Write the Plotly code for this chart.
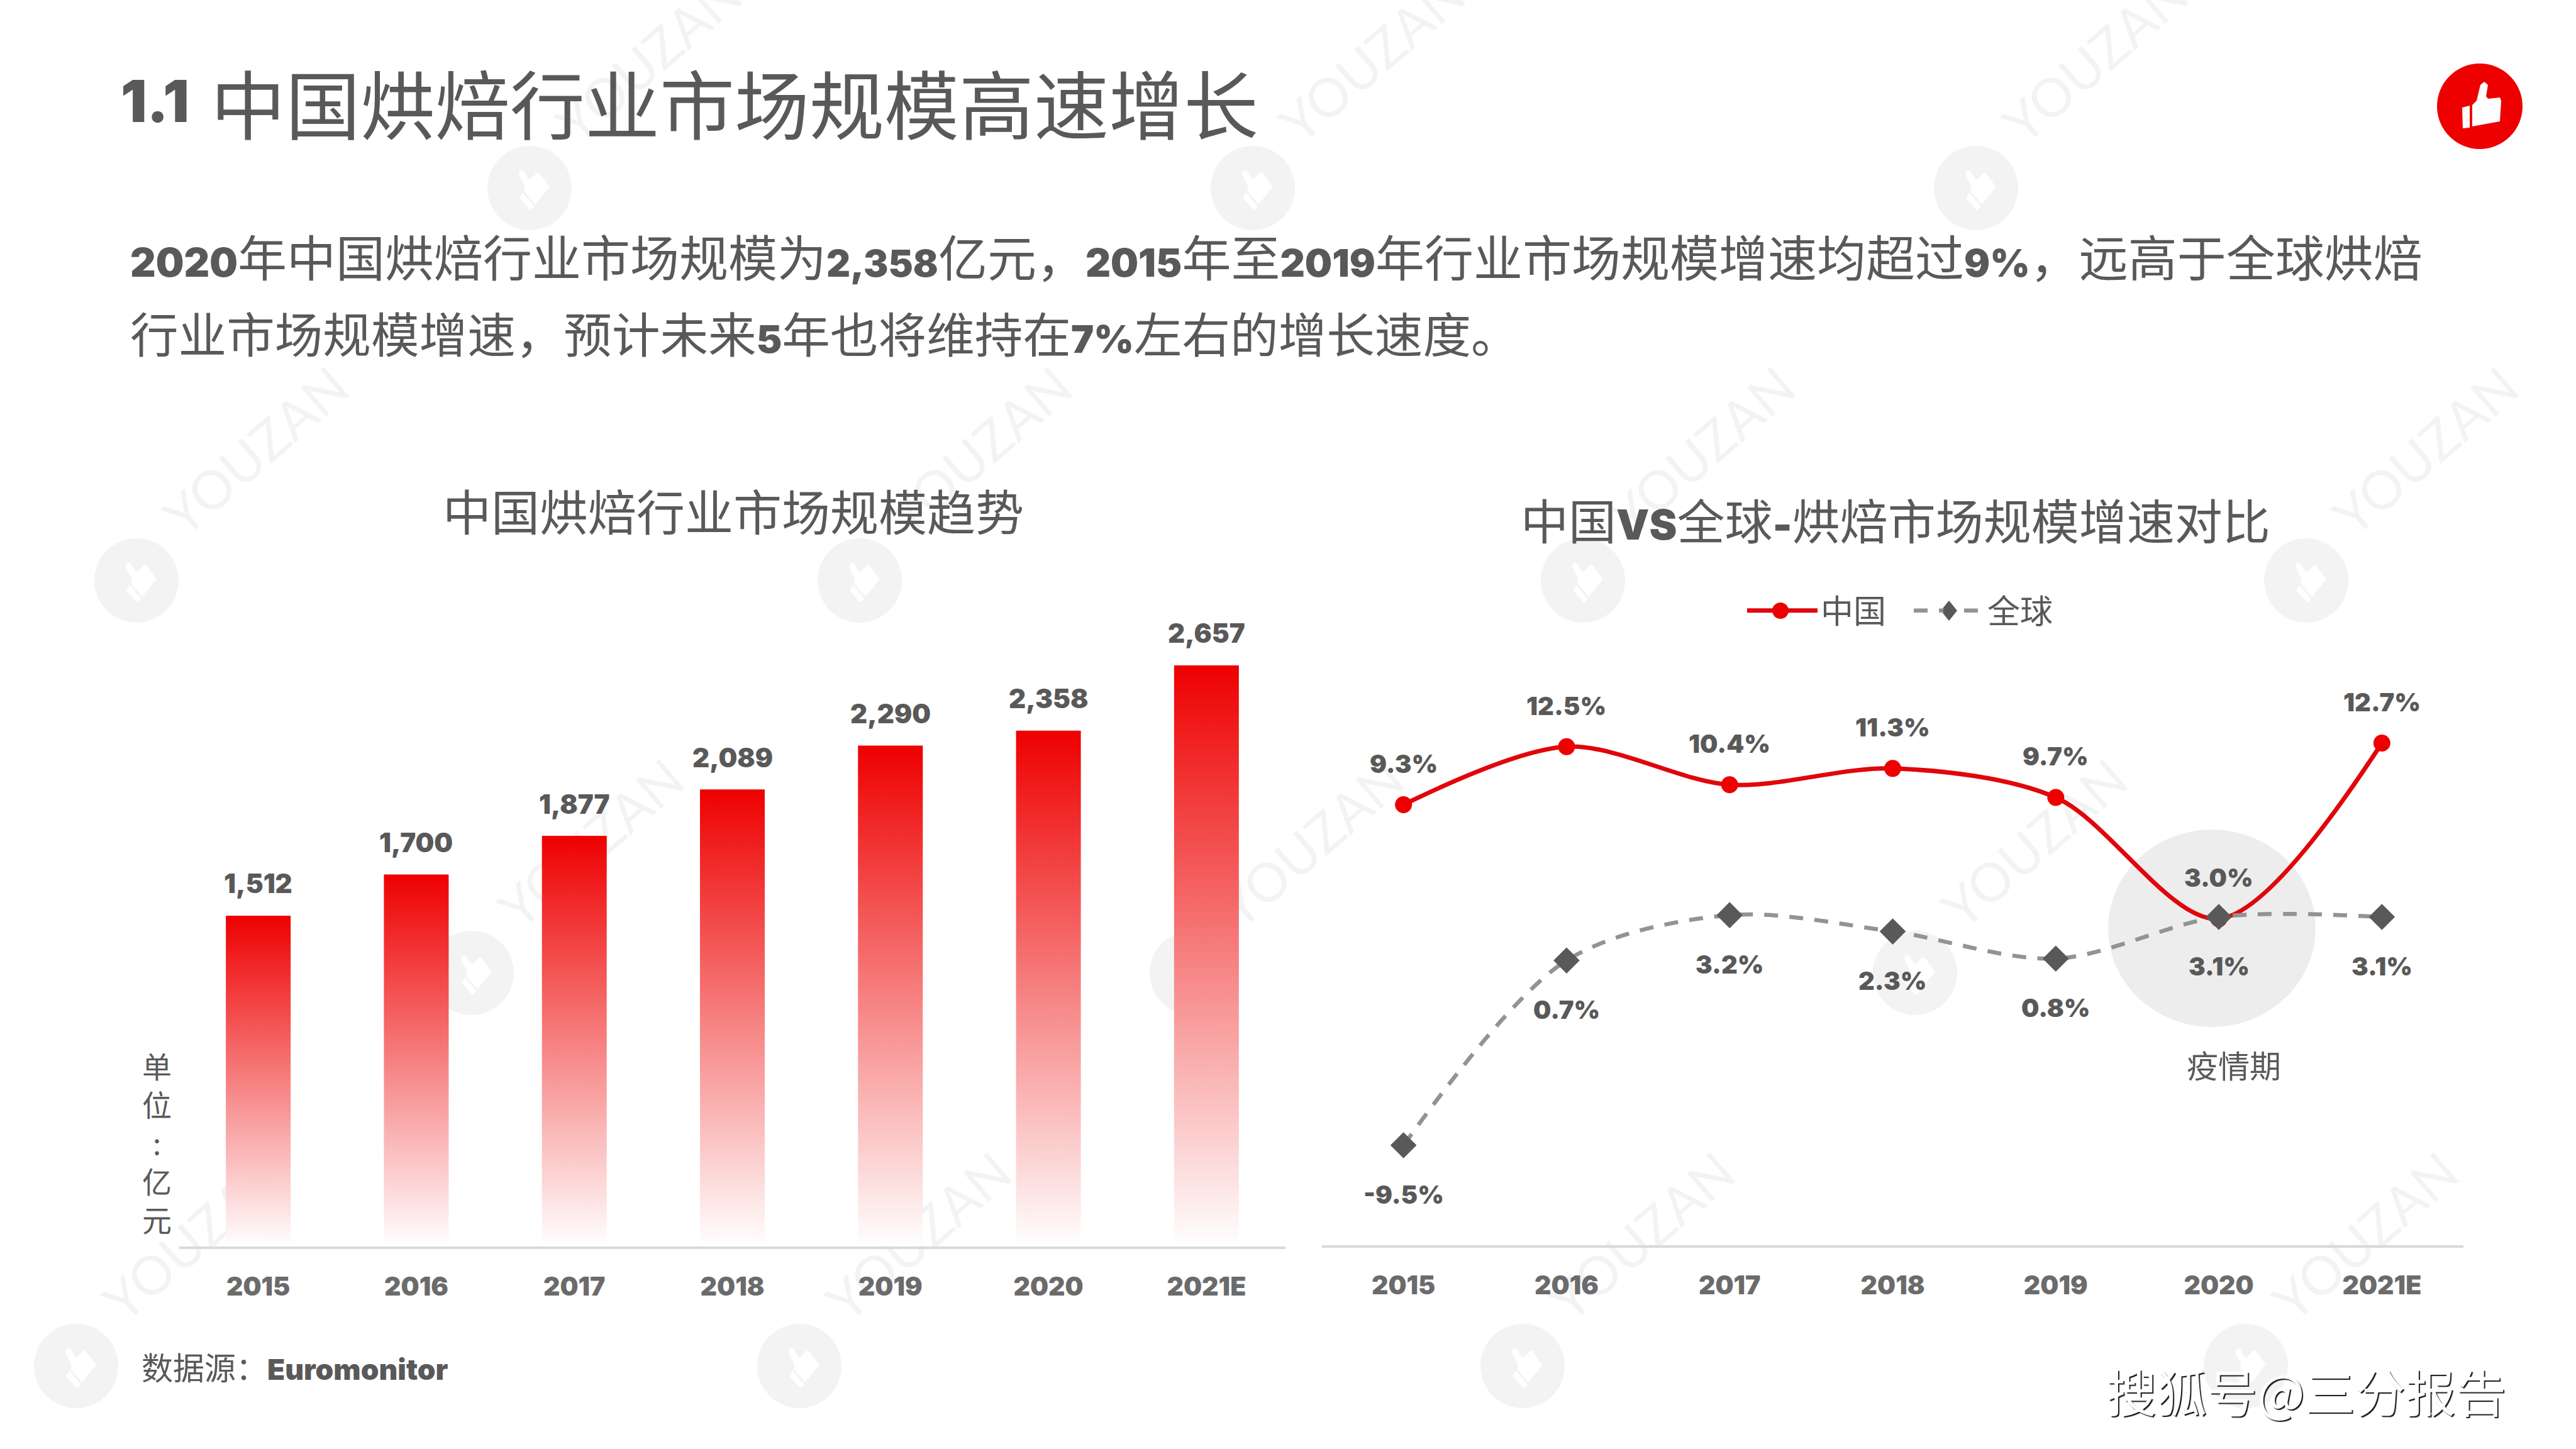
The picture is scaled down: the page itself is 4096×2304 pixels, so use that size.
import math
import plotly.graph_objects as go

W, H = 4096, 2304

years = ['2015', '2016', '2017', '2018', '2019', '2020', '2021E']
market_size = [1512, 1700, 1877, 2089, 2290, 2358, 2657]
china_growth = [9.3, 12.5, 10.4, 11.3, 9.7, 3.0, 12.7]
global_growth = [-9.5, 0.7, 3.2, 2.3, 0.8, 3.1, 3.1]

CJK = 'Noto Sans CJK SC'
LATIN = 'Inter'
GREY = '#595959'
TICK_GREY = '#6b6b6b'
RED = '#EE0000'
MARK_GREY = '#F3F3F3'

# watermark logo centres, one list per row
logo_rows = [
    (299, [842, 1992, 3142]),
    (923, [217, 1367, 2517, 3667]),
    (1547, [750, 1895, 3045]),
    (2172, [121, 1271, 2421, 3571]),
]

HAND = [(-12, -2), (-5, -9), (1, -34), (7, -39), (13, -34), (10, -16), (13, -12), (32, -14),
        (34, -9), (32, 24), (-12, 32)]
SLEEVE = [(-28, 2), (-16, -1), (-16, 34), (-27, 35)]


def fx(x):
    return x / W


def fy(y):
    return 1 - y / H


def thumb_path(cx, cy, points, scale, angle):
    a = math.radians(angle)
    out = []
    for x, y in points:
        px = cx + scale * (x * math.cos(a) + y * math.sin(a))
        py = cy + scale * (-x * math.sin(a) + y * math.cos(a))
        out.append(f'{fx(px):.5f},{fy(py):.5f}')
    return 'M' + ' L'.join(out) + ' Z'


def logo(cx, cy, r, color, scale, angle):
    res = [dict(type='circle', xref='paper', yref='paper', x0=fx(cx - r), x1=fx(cx + r),
                y0=fy(cy - r), y1=fy(cy + r), fillcolor=color, line_width=0, layer='below')]
    for pts in (HAND, SLEEVE):
        res.append(dict(type='path', xref='paper', yref='paper', path=thumb_path(cx, cy, pts, scale, angle),
                        fillcolor='white', line_width=0, layer='below'))
    return res


def note(text, x, y, size, color=GREY, anchor='left', family=CJK):
    return dict(text=text, xref='paper', yref='paper', x=fx(x), y=fy(y), xanchor=anchor, yanchor='middle',
                showarrow=False, align=anchor, font=dict(family=family, size=size, color=color))


def num(s, size):
    return f'<span style="font-family:{LATIN};font-weight:900;font-size:{size}px">{s}</span>'


fig = go.Figure()

# gradient bars, one filled rectangle per year
bar_half = 0.205
for i, v in enumerate(market_size):
    fig.add_trace(go.Scatter(
        x=[i - bar_half, i + bar_half, i + bar_half, i - bar_half, i - bar_half],
        y=[0, 0, v, v, 0], mode='lines', line_width=0, fill='toself', showlegend=False, hoverinfo='skip',
        fillgradient=dict(type='vertical', colorscale=[[0, '#FFFFFF'], [1, RED]]),
        xaxis='x', yaxis='y'))

fig.add_trace(go.Scatter(
    x=list(range(len(years))), y=china_growth, name='中国', mode='lines+markers', xaxis='x2', yaxis='y2',
    line=dict(color='#E0060C', width=7, shape='spline', smoothing=0.9),
    marker=dict(color=RED, size=27, symbol='circle')))
fig.add_trace(go.Scatter(
    x=list(range(len(years))), y=global_growth, name='全球', mode='lines+markers', xaxis='x2', yaxis='y2',
    line=dict(color='#939393', width=6.5, shape='spline', smoothing=0.9, dash='22px,18px'),
    marker=dict(color=GREY, size=32, symbol='diamond')))

shapes = []
for row_y, xs in logo_rows:
    for x in xs:
        shapes += logo(x, row_y, 67, MARK_GREY, 0.8, 40)
        tx, ty = x + 188, row_y - 208
        shapes.append(dict(type='rect', xref='paper', yref='paper', x0=fx(tx - 10), x1=fx(tx + 10),
                           y0=fy(ty + 10), y1=fy(ty - 10), line_width=0, fillcolor='rgba(0,0,0,0)', layer='below',
                           label=dict(text='YOUZAN', textangle=-41, textposition='middle center',
                                      font=dict(family='Lato', size=85, color=MARK_GREY))))

# pandemic highlight
shapes.append(dict(type='circle', xref='paper', yref='paper', x0=fx(3352), x1=fx(3682), y0=fy(1319), y1=fy(1633),
                   fillcolor='#EDEDED', line_width=0, layer='below'))
shapes += logo(3943, 169, 68, RED, 1.0, 0)

# the legend caps its marker size, so its two markers are drawn at full size on top
LEGEND_Y = 971
shapes.append(dict(type='circle', xref='paper', yref='paper', x0=fx(2818), x1=fx(2844), y0=fy(LEGEND_Y + 13),
                   y1=fy(LEGEND_Y - 13), fillcolor=RED, line_width=0))
shapes.append(dict(type='path', xref='paper', yref='paper', fillcolor=GREY, line_width=0,
                   path=f'M{fx(3086):.5f},{fy(LEGEND_Y):.5f} L{fx(3099):.5f},{fy(LEGEND_Y - 16):.5f} '
                        f'L{fx(3112):.5f},{fy(LEGEND_Y):.5f} L{fx(3099):.5f},{fy(LEGEND_Y + 16):.5f} Z'))

annotations = [
    note('<span style="font-weight:900">1.1</span>', 190, 161, 92, family=LATIN),
    note('中国烘焙行业市场规模高速增长', 333, 161, 119),
    note(num('2020', 63) + '年中国烘焙行业市场规模为' + num('2,358', 59) + '亿元，' + num('2015', 62) + '年至'
         + num('2019', 61) + '年行业市场规模增速均超过' + num('9%', 61) + '，远高于全球烘焙', 205, 406, 78),
    note('行业市场规模增速，预计未来' + num('5', 61) + '年也将维持在' + num('7%', 61) + '左右的增长速度。', 205, 528, 76.6),
    note('中国烘焙行业市场规模趋势', 1166, 810, 77, anchor='center'),
    note('中国' + num('VS', 66) + '全球' + num('-', 66) + '烘焙市场规模增速对比', 3014, 825, 76, anchor='center'),
    note('单<br>位<br>:<br>亿<br>元', 249, 1815, 47, anchor='center'),
    note('数据源：' + num('Euromonitor', 46), 223, 2172, 50),
    note('疫情期', 3552, 1692, 50, anchor='center'),
]

# bottom right outlined watermark
sohu = note('搜狐号@三分报告', 3667, 2210, 80, color='white', anchor='center')
sohu['font']['shadow'] = '2px 2px 1px rgba(0,0,0,0.9)'
annotations.append(sohu)

for i, v in enumerate(market_size):
    annotations.append(dict(text=f'{v:,}', x=i, y=v, xref='x', yref='y', yshift=51, showarrow=False, yanchor='middle',
                            font=dict(family=LATIN, size=42, color=GREY, weight=900)))
for i, v in enumerate(china_growth):
    annotations.append(dict(text=f'{v:.1f}%', x=i, y=v, xref='x2', yref='y2', yshift=65, showarrow=False,
                            yanchor='middle', font=dict(family=LATIN, size=40, color=GREY, weight=900)))
for i, v in enumerate(global_growth):
    annotations.append(dict(text=f'{v:.1f}%', x=i, y=v, xref='x2', yref='y2', yshift=-78, showarrow=False,
                            yanchor='middle', font=dict(family=LATIN, size=40, color=GREY, weight=900)))

x_common = dict(tickmode='array', tickvals=list(range(len(years))), ticktext=years, range=[-0.5, 6.5],
                showgrid=False, zeroline=False, showline=True, linecolor='#D9D9D9', linewidth=4, ticks='outside',
                ticklen=25, tickcolor='rgba(0,0,0,0)', tickfont=dict(family=LATIN, size=41, color=TICK_GREY, weight=900))

fig.update_layout(
    width=W, height=H, margin=dict(l=0, r=0, t=0, b=0), paper_bgcolor='white', plot_bgcolor='rgba(0,0,0,0)',
    font=dict(family=CJK, color=GREY),
    xaxis=dict(domain=[fx(285), fx(2044)], anchor='y', **x_common),
    yaxis=dict(domain=[fy(1981.5), fy(1000)], range=[0, 2823.6], visible=False),
    xaxis2=dict(domain=[fx(2102), fx(3917)], anchor='y2', **x_common),
    yaxis2=dict(domain=[fy(1980), fy(1100)], range=[-15.02, 15.53], visible=False),
    shapes=shapes, annotations=annotations,
    legend=dict(orientation='h', x=fx(2773), y=fy(LEGEND_Y), xanchor='left', yanchor='middle', itemwidth=112,
                entrywidth=138, font=dict(family=CJK, size=52, color=GREY), bgcolor='rgba(0,0,0,0)'),
)

# drop the browser's default body margin so the figure fills the window exactly
fig.write_html('out.html', config={'displayModeBar': False}, post_script="document.body.style.margin='0';")
